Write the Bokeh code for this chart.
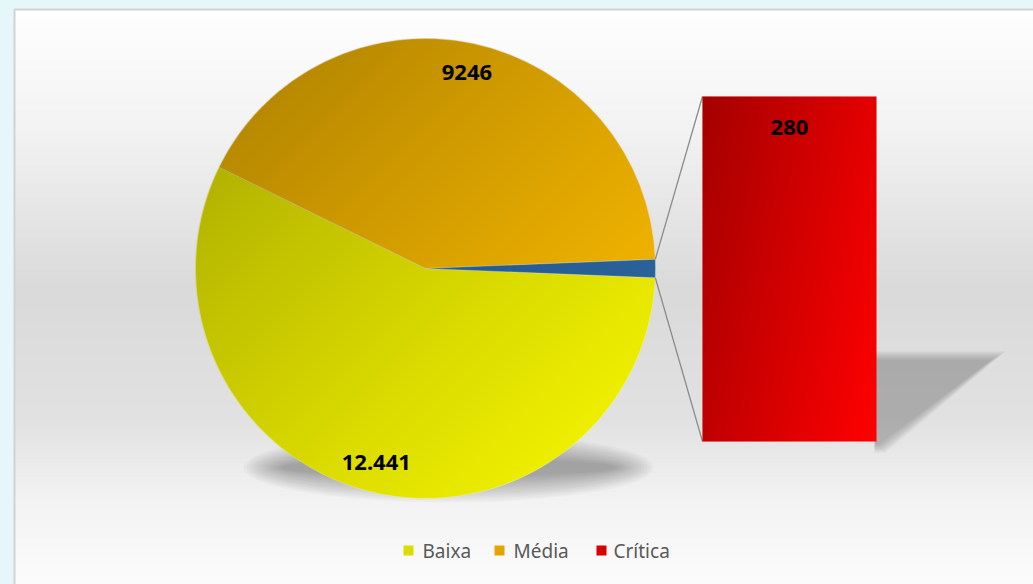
import numpy as np
from bokeh.plotting import figure
from bokeh.models import Range1d, ColumnDataSource
from bokeh.embed import file_html
from bokeh.resources import INLINE
from bokeh.core.properties import value

# ---------------- data ----------------
categories = ["Baixa", "Média", "Crítica"]
values = [12441, 9246, 280]
labels = ["12.441", "9246", "280"]
slice_colors = ["#f6f600", "#ffbe00"]
other_color = "#2c69a4"
bar_color = "#ff0000"
legend_colors = ["#dcdc00", "#e6a400", "#d80000"]

# ---------------- layout helpers (reference pixel coords) ----------------
def Y(py):
    return 584 - py

p = figure(width=1033, height=584, x_range=Range1d(0, 1033), y_range=Range1d(0, 584),
           output_backend="svg", toolbar_location=None, min_border=0,
           x_axis_location=None, y_axis_location=None)
p.grid.grid_line_color = None
p.outline_line_color = None
p.background_fill_color = "#e5f7fa"
p.border_fill_color = "#e5f7fa"

# chart-area background gradient
rows = 575
px_rows = 583.5 - np.arange(rows)
stops = [9, 120, 290, 420, 500, 584]
vals = [255, 244, 218, 226, 243, 252]
g = np.interp(px_rows, stops, vals).astype(np.uint8)
bg = np.zeros((rows, 4, 4), dtype=np.uint8)
bg[:, :, 0] = g[:, None]
bg[:, :, 1] = g[:, None]
bg[:, :, 2] = g[:, None]
bg[:, :, 3] = 255
p.image_rgba(image=[bg.view(np.uint32).reshape(rows, 4)], x=14, y=0, dw=1019, dh=rows)
p.line([14, 14, 1033], [0, Y(9), Y(9)], line_color="#d2d2d2", line_width=2)

# pie geometry
cx, cy, R = 425, Y(268), 230
total = sum(values)
other_ang = 2 * np.pi * values[2] / total
media_ang = 2 * np.pi * values[1] / total
a0 = -other_ang / 2
a1 = other_ang / 2
a2 = a1 + media_ang
a3 = 2 * np.pi + a0

# pie shadow (soft)
for k in range(14):
    p.ellipse(x=448, y=Y(467), width=410 - 6 * k, height=70 - 4 * k,
              fill_color="black", fill_alpha=0.022, line_color=None)

# bar shadow (soft)
bx0, bx1 = 702, 876
for k in range(12):
    e = 12 - k
    p.patch([bx1 - 2, 990 + e * 1.3, 878 + e * 0.6, bx1 - 2],
            [Y(360 - e * 0.8), Y(360 - e * 0.8), Y(443 + e * 0.8), Y(443 + e * 0.8)],
            fill_color="black", fill_alpha=0.018, line_color=None)

# wedges
src = ColumnDataSource(dict(
    start=[a2, a1, a0],
    end=[a3, a2, a1],
    color=[slice_colors[0], slice_colors[1], other_color],
    name=[categories[0], categories[1], "Outro"],
))
p.wedge(x=cx, y=cy, radius=R, start_angle="start", end_angle="end", source=src,
        fill_color="color", line_color="white", line_alpha=0.5, line_width=0.6)

# pie gradient overlay (darker toward top-left)
N = 2 * R
ii, jj = np.mgrid[0:N, 0:N]
px_x = (cx - R) + jj + 0.5
px_y = Y(cy - R + ii + 0.5)
d = np.hypot(px_x - cx, px_y - Y(cy))
mask = np.clip(R - d + 0.5, 0, 1)
t = ((px_x - (cx - R)) + (px_y - (Y(cy) - R))) / (2 * N)
alpha = 0.34 * (1 - t) ** 1.2 * mask
ov = np.zeros((N, N, 4), dtype=np.uint8)
ov[:, :, 3] = (alpha * 255).astype(np.uint8)
p.image_rgba(image=[ov.view(np.uint32).reshape(N, N)], x=cx - R, y=cy - R, dw=N, dh=N)

# connector lines
ux, uy = cx + R * np.cos(a1), cy + R * np.sin(a1)
lx, ly = cx + R * np.cos(a0), cy + R * np.sin(a0)
bar_bottom = Y(441)
scale = 345 / values[2]
bar_top = bar_bottom + values[2] * scale
p.line([ux, bx0], [uy, bar_top], line_color="#8c8c8c", line_width=1.3)
p.line([lx, bx0], [ly, bar_bottom], line_color="#8c8c8c", line_width=1.3)

# bar
p.quad(left=bx0, right=bx1, bottom=bar_bottom, top=bar_top, fill_color=bar_color, line_color=None)
bw, bh = bx1 - bx0, int(round(bar_top - bar_bottom))
bi, bj = np.mgrid[0:bh, 0:bw]
tb = 0.7 * (bj / bw) + 0.3 * (1 - bi / bh)
balpha = 0.36 * (1 - tb)
bov = np.zeros((bh, bw, 4), dtype=np.uint8)
bov[:, :, 3] = (balpha * 255).astype(np.uint8)
p.image_rgba(image=[bov.view(np.uint32).reshape(bh, bw)], x=bx0, y=bar_bottom, dw=bw, dh=bh)

# data labels
mid_b = (a2 + a3) / 2
mid_m = (a1 + a2) / 2
lr = 0.87 * R
lab_src = ColumnDataSource(dict(
    x=[cx + lr * np.cos(mid_b), cx + lr * np.cos(mid_m), (bx0 + bx1) / 2],
    y=[cy + lr * np.sin(mid_b), cy + lr * np.sin(mid_m), bar_top - 31],
    text=labels,
))
p.text(x="x", y="y", text="text", source=lab_src, text_align="center",
       text_baseline="middle", text_font=value("Noto Sans"), text_font_style="bold",
       text_font_size="22px", text_color="black")

# legend
sq_x = [403, 494, 596]
tx_x = [422, 513, 613]
ly_c = Y(550)
p.quad(left=sq_x, right=[x + 10 for x in sq_x], bottom=ly_c - 5, top=ly_c + 5,
       fill_color=legend_colors, line_color=None)
p.text(x=tx_x, y=[ly_c] * 3, text=categories, text_baseline="middle",
       text_font=value("Noto Sans"), text_font_size="19px", text_color="#595959")

html = file_html(p, INLINE)
html = html.replace("<head>", "<head><style>body{background:#e5f7fa;}</style>", 1)
open("out.html", "w").write(html)
